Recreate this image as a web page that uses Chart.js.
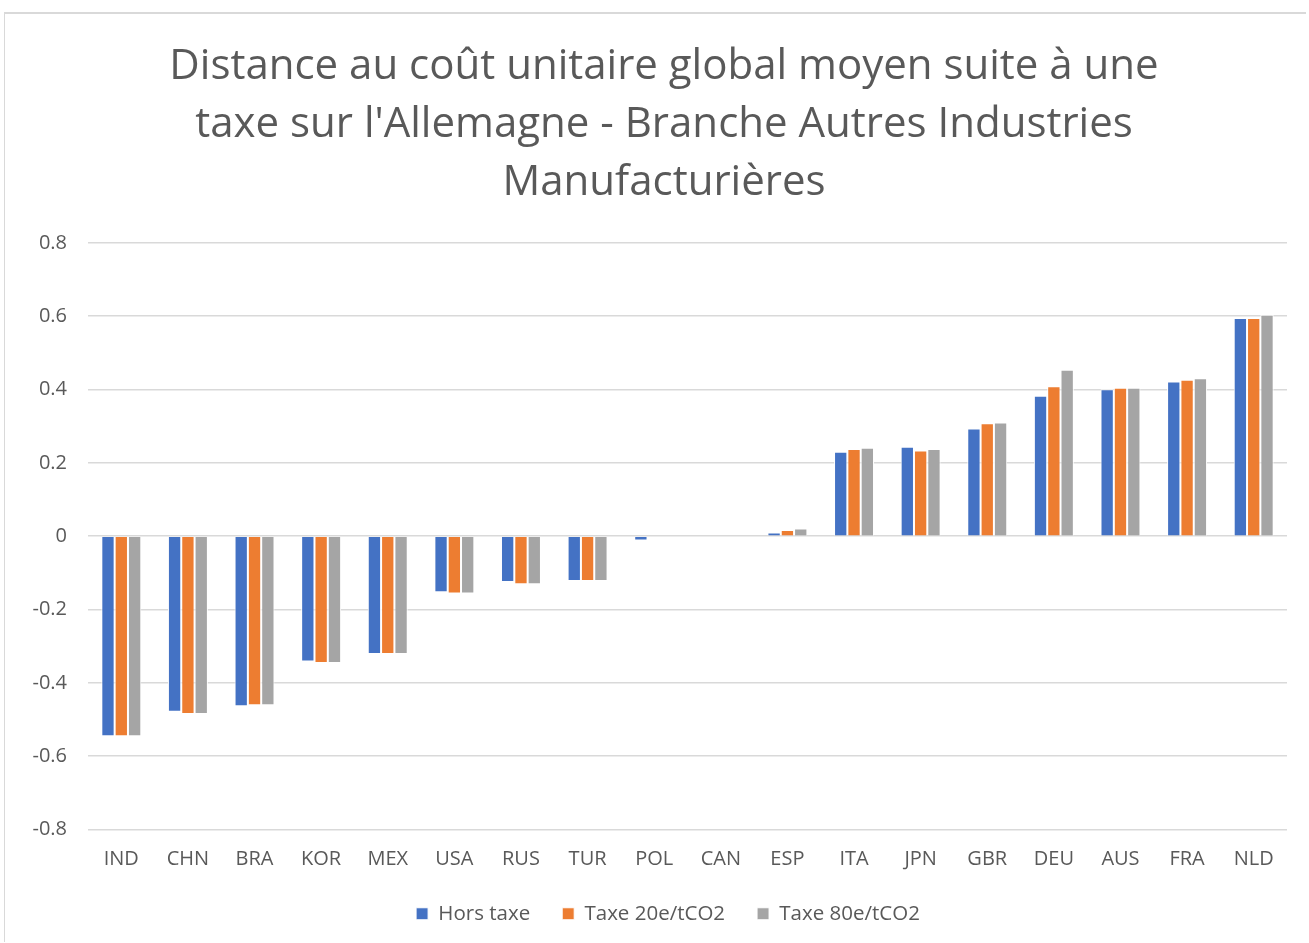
<!DOCTYPE html>
<html>
<head>
<meta charset="utf-8">
<script src="https://cdn.jsdelivr.net/npm/chart.js@4.4.1/dist/chart.umd.min.js"></script>
<style>
  html, body { margin: 0; padding: 0; background: #fff; width: 1309px; height: 943px; overflow: hidden; }
  #frame { position: absolute; left: 4px; top: 12px; width: 1302px; height: 930px;
           border-left: 1px solid #d9d9d9; border-top: 2px solid #d9d9d9; box-sizing: border-box; }
  #wrap { position: absolute; left: 0; top: 0; width: 1301px; height: 928px; }
</style>
</head>
<body>
<div id="frame"><div id="wrap"><canvas id="c"></canvas></div></div>
<script>
const categories = ["IND","CHN","BRA","KOR","MEX","USA","RUS","TUR","POL","CAN","ESP","ITA","JPN","GBR","DEU","AUS","FRA","NLD"];
const horsTaxe  = [-0.546,-0.479,-0.464,-0.342,-0.321,-0.153,-0.125,-0.122,-0.012,0,0.010,0.230,0.244,0.294,0.383,0.401,0.422,0.595];
const taxe20    = [-0.546,-0.485,-0.461,-0.346,-0.321,-0.156,-0.131,-0.122,0,0,0.017,0.238,0.234,0.308,0.409,0.405,0.427,0.595];
const taxe80    = [-0.546,-0.485,-0.461,-0.346,-0.321,-0.156,-0.131,-0.122,0,0,0.021,0.241,0.238,0.310,0.454,0.405,0.431,0.604];
const seriesNames = ["Hors taxe","Taxe 20e/tCO2","Taxe 80e/tCO2"];
const titleLines = ["Distance au coût unitaire global moyen suite à une","taxe sur l'Allemagne - Branche Autres Industries","Manufacturières"];
const yMin = -0.8, yMax = 0.8, yStep = 0.2;

const FONT = "'Open Sans', sans-serif";
const TXT = "#595959";
const colors = ["#4472c4","#ed7d31","#a5a5a5"];

// Shift title and legend blocks to the right (reference centres them on a wider chart box)
const shiftBlocks = {
  id: "shiftBlocks",
  afterLayout(chart) {
    const t = chart.titleBlock, l = chart.legend;
    if (t) { t.left += 18; t.right += 18; }
    if (l) { l.left += 22; l.right += 22; }
  }
};

new Chart(document.getElementById("c"), {
  type: "bar",
  plugins: [shiftBlocks],
  data: {
    labels: categories,
    datasets: [horsTaxe, taxe20, taxe80].map((d, i) => ({
      label: seriesNames[i],
      data: d,
      backgroundColor: colors[i],
      borderColor: "#ffffff",
      borderWidth: 1,
      categoryPercentage: 0.6,
      barPercentage: 1.0
    }))
  },
  options: {
    responsive: true,
    maintainAspectRatio: false,
    animation: false,
    layout: { padding: { left: 0, right: 19, top: 0, bottom: 8 } },
    plugins: {
      title: {
        display: true,
        text: titleLines,
        color: TXT,
        font: { family: FONT, size: 42, weight: "normal", lineHeight: 1.38 },
        padding: { top: 24, bottom: 31 }
      },
      legend: {
        position: "bottom",
        labels: {
          color: TXT,
          font: { family: FONT, size: 20.5 },
          boxWidth: 12, boxHeight: 12,
          padding: 32
        }
      },
      tooltip: { enabled: false }
    },
    scales: {
      x: {
        afterFit: (s) => { s.height = 42; },
        grid: { display: false, drawTicks: false },
        border: { display: false },
        ticks: { color: TXT, font: { family: FONT, size: 20 }, padding: 18, maxRotation: 0 }
      },
      y: {
        min: yMin, max: yMax,
        afterFit: (s) => { s.width = 83; },
        grid: { color: "#d9d9d9", lineWidth: 1.5, drawTicks: false },
        border: { display: false },
        ticks: {
          stepSize: yStep, color: TXT, font: { family: FONT, size: 20 }, padding: 21,
          callback: (v) => String(Math.round(v * 10) / 10)
        }
      }
    }
  }
});
</script>
</body>
</html>
